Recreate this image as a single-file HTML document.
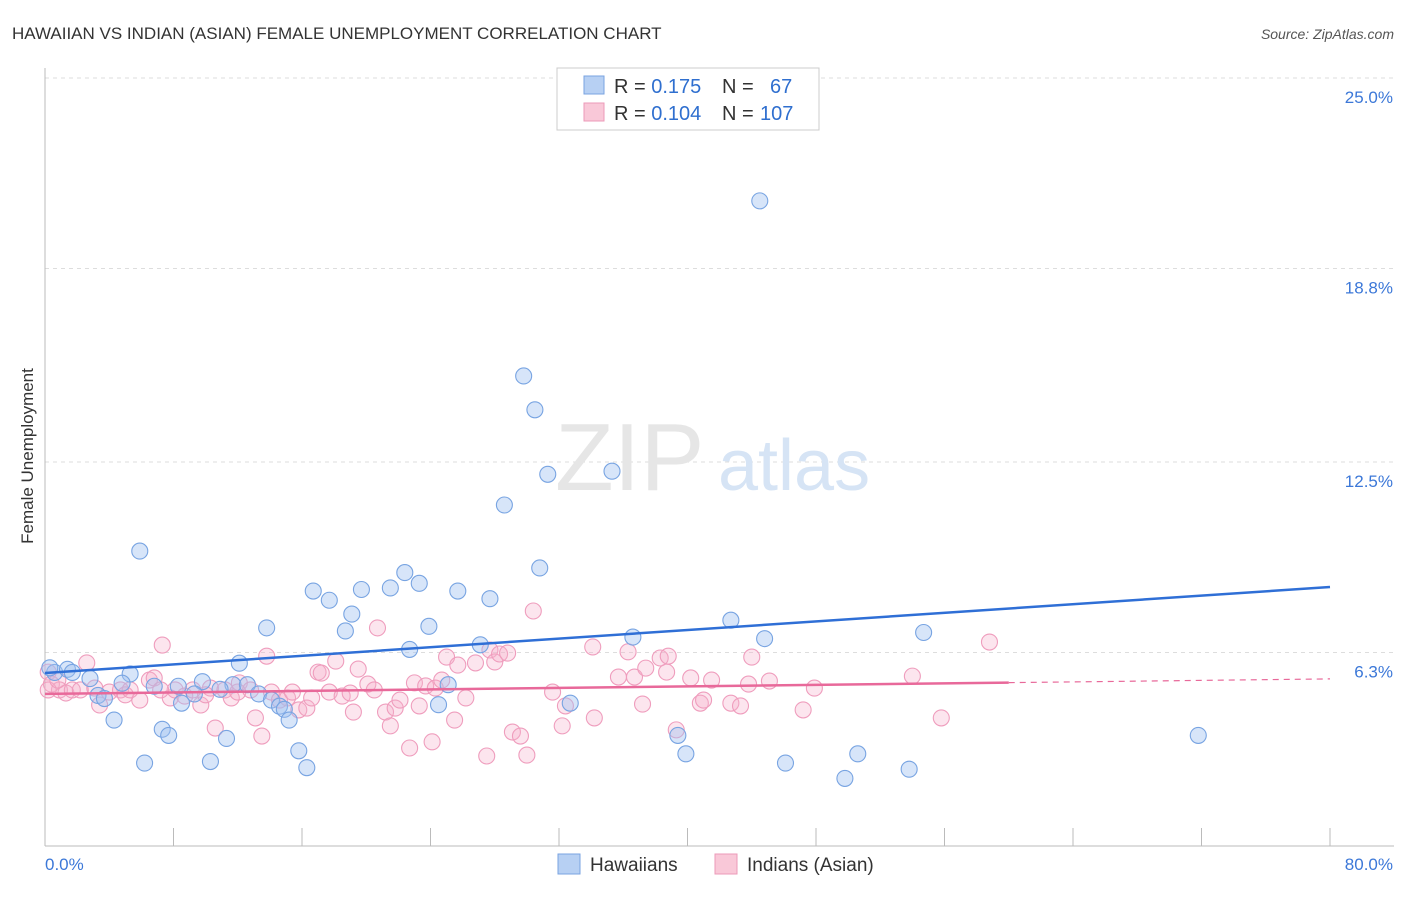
<!DOCTYPE html>
<html><head><meta charset="utf-8"><style>
body{margin:0;background:#fff;font-family:"Liberation Sans",sans-serif}
svg text{font-family:"Liberation Sans",sans-serif}
</style></head><body>
<svg id="chart" width="1406" height="892">
<text x="12" y="39" font-size="17" fill="#333">HAWAIIAN VS INDIAN (ASIAN) FEMALE UNEMPLOYMENT CORRELATION CHART</text>
<text x="1394" y="39" font-size="14" fill="#555" font-style="italic" text-anchor="end">Source: ZipAtlas.com</text>
<text x="33" y="456" font-size="17" fill="#333" transform="rotate(-90 33 456)" text-anchor="middle">Female Unemployment</text>
<g id="grid"></g><g id="axes"></g>
<text x="555" y="490" font-size="96" fill="#e6e6e6" font-family="Liberation Serif">ZIP</text>
<text x="718" y="490" font-size="72" fill="#d6e4f5">atlas</text>
<g id="pink"></g><g id="blue"></g><g id="lines"></g>
<g>
<rect x="557" y="68" width="262" height="62" fill="#fff" stroke="#ccc"/>
<rect x="584" y="76" width="20" height="18" fill="#b7d0f3" stroke="#7aa3e0"/>
<rect x="584" y="103" width="20" height="18" fill="#f9c8d8" stroke="#ec9ab8"/>
<text x="614" y="93" font-size="20" fill="#333">R = <tspan fill="#2f6fcf">0.175</tspan><tspan x="722">N = </tspan><tspan x="770" fill="#2f6fcf">67</tspan></text>
<text x="614" y="120" font-size="20" fill="#333">R = <tspan fill="#2f6fcf">0.104</tspan><tspan x="722">N = </tspan><tspan x="760" fill="#2f6fcf">107</tspan></text>
</g>
<g>
<rect x="558" y="854" width="22" height="20" fill="#b7d0f3" stroke="#7aa3e0"/>
<text x="590" y="871" font-size="19" fill="#333">Hawaiians</text>
<rect x="715" y="854" width="22" height="20" fill="#f9c8d8" stroke="#ec9ab8"/>
<text x="747" y="871" font-size="19" fill="#333">Indians (Asian)</text>
</g>
</svg>
<script>
const yTicks=[6.3,12.5,18.8,25.0];
const yTickLabels=["6.3%","12.5%","18.8%","25.0%"];
const xTickLabels=["0.0%","80.0%"];
const blueX=[44.5,29.8,30.5,31.3,35.3,28.6,5.9,30.8,22.4,23.3,21.5,19.7,16.7,25.7,17.7,27.7,19.1,42.7,13.8,23.9,18.7,54.7,36.6,44.8,27.1,22.7,12.1,0.6,1.4,1.7,5.3,2.8,4.8,6.8,8.3,9.8,11.7,12.6,25.1,10.9,13.3,9.3,3.3,3.7,8.5,14.1,14.6,14.9,24.5,32.7,4.3,15.2,7.3,7.7,11.3,39.4,71.8,15.8,39.9,50.6,6.2,10.3,16.3,46.1,53.8,49.8,0.3];
const blueY=[21.0,15.3,14.2,12.1,12.2,11.1,9.6,9.05,8.9,8.55,8.4,8.35,8.3,8.3,8.0,8.05,7.55,7.35,7.1,7.15,7.0,6.95,6.8,6.75,6.55,6.4,5.95,5.65,5.75,5.65,5.6,5.45,5.3,5.2,5.2,5.35,5.25,5.25,5.25,5.1,4.95,4.95,4.9,4.8,4.65,4.75,4.55,4.45,4.6,4.65,4.1,4.1,3.8,3.6,3.5,3.6,3.6,3.1,3.0,3.0,2.7,2.75,2.55,2.7,2.5,2.2,5.8];
const pinkPx=[[48,672],[52,684],[60,690],[66,693],[72,690],[86,663],[80,690],[100,705],[110,692],[120,690],[125,695],[140,700],[150,680],[155,678],[162,645],[170,698],[175,690],[185,696],[192,690],[200,705],[210,688],[215,728],[225,690],[232,698],[238,692],[240,683],[250,690],[255,718],[262,736],[267,656],[272,692],[280,700],[288,698],[292,692],[298,710],[306,708],[312,698],[318,672],[322,673],[330,692],[335,661],[342,696],[350,693],[354,712],[358,669],[368,684],[374,690],[378,628],[385,712],[390,726],[395,708],[400,700],[410,748],[415,683],[420,706],[426,686],[432,742],[436,688],[442,680],[446,657],[455,720],[458,665],[465,698],[476,663],[486,756],[490,650],[494,662],[500,654],[508,653],[512,732],[520,736],[526,755],[534,611],[552,692],[562,726],[566,706],[593,647],[595,718],[618,677],[628,652],[634,677],[642,704],[645,668],[660,658],[666,672],[668,656],[676,730],[690,678],[700,703],[704,700],[712,680],[731,703],[740,706],[748,684],[752,657],[770,681],[803,710],[815,688],[913,676],[941,718],[990,642],[48,690],[58,680],[130,690],[160,690],[95,688],[205,695]];
const pinkX=pinkPx.map(p=>+((p[0]-45)/16.06).toFixed(1));
const pinkY=pinkPx.map(p=>+((846-p[1])/30.72).toFixed(2));
const blueFit=[5.63,8.43];
const pinkFit=[4.95,5.44];
const X=v=>45+v/80*1285, Y=v=>846-v*30.72;
const NS="http://www.w3.org/2000/svg";
function mk(t,a,parent){const e=document.createElementNS(NS,t);for(const k in a)e.setAttribute(k,a[k]);document.getElementById(parent).appendChild(e);return e;}
yTicks.forEach((t,i)=>{
 const l=mk('line',{x1:45,x2:1394,y1:Y(t),y2:Y(t),stroke:'#ddd','stroke-dasharray':'4,4'},'grid');
 
 
 const tx=mk('text',{x:1393,y:Y(t)+25,'font-size':17,fill:'#3c78d8','text-anchor':'end'},'grid');
 tx.textContent=yTickLabels[i];
 
 
});
mk('line',{x1:45,x2:45,y1:68,y2:846,stroke:'#bbb'},'axes');
mk('line',{x1:45,x2:1394,y1:846,y2:846,stroke:'#bbb'},'axes');
for(let i=0;i<=10;i++){const x=45+i*128.5;mk('line',{x1:x,x2:x,y1:828,y2:846,stroke:'#bbb'},'axes');}
[[0,'start',45],[1,'end',1393]].forEach(([i,a,x])=>{const t=mk('text',{x:x,y:870,'font-size':17,fill:'#3c78d8','text-anchor':a},'axes');t.textContent=xTickLabels[i];
 
 });
pinkX.forEach((v,i)=>{const c=mk('circle',{cx:X(v),cy:Y(pinkY[i]),r:8,fill:'rgba(246,175,203,0.33)',stroke:'#ef9dbd','stroke-width':1.1},'pink');
 
 });
blueX.forEach((v,i)=>{const c=mk('circle',{cx:X(v),cy:Y(blueY[i]),r:8,fill:'rgba(160,192,240,0.42)',stroke:'#78a4e2','stroke-width':1.1},'blue');
 
 });
const bl=mk('line',{x1:X(0),y1:Y(blueFit[0]),x2:X(80),y2:Y(blueFit[1]),stroke:'#2f6fd6','stroke-width':2.5},'lines');


const pm=pinkFit[0]+(pinkFit[1]-pinkFit[0])*60/80;
const pl=mk('line',{x1:X(0),y1:Y(pinkFit[0]),x2:X(60),y2:Y(pm),stroke:'#e8699a','stroke-width':2.5},'lines');


const pd=mk('line',{x1:X(60),y1:Y(pm),x2:X(80),y2:Y(pinkFit[1]),stroke:'#e8699a','stroke-width':1.2,'stroke-dasharray':'6,5'},'lines');


</script>
</body></html>
